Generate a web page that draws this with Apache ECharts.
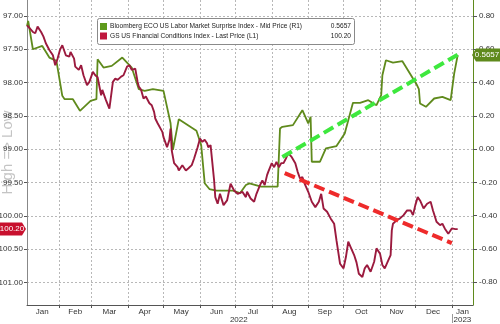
<!DOCTYPE html>
<html><head><meta charset="utf-8">
<script src="https://cdn.jsdelivr.net/npm/echarts@6/dist/echarts.min.js"></script>
<style>html,body{margin:0;padding:0;background:#fff}#c{width:500px;height:324px}</style>
</head><body><div id="c"></div>
<script>
// ---- data ----
const greenDates = ['2022-01-05','2022-01-06','2022-01-10','2022-01-18','2022-01-24','2022-01-30','2022-02-04','2022-02-06','2022-02-13','2022-02-19','2022-02-28','2022-03-05','2022-03-06','2022-03-11','2022-03-18','2022-03-27','2022-04-04','2022-04-10','2022-04-15','2022-04-22','2022-05-01','2022-05-07','2022-05-09','2022-05-14','2022-05-29','2022-06-02','2022-06-05','2022-06-09','2022-06-15','2022-06-29','2022-07-05','2022-07-10','2022-07-13','2022-07-23','2022-08-06','2022-08-08','2022-08-10','2022-08-19','2022-08-27','2022-09-01','2022-09-03','2022-09-04','2022-09-11','2022-09-16','2022-09-25','2022-10-02','2022-10-09','2022-10-15','2022-10-22','2022-10-29','2022-11-02','2022-11-03','2022-11-04','2022-11-06','2022-11-12','2022-11-20','2022-12-02','2022-12-04','2022-12-05','2022-12-10','2022-12-17','2022-12-24','2022-12-31','2023-01-03','2023-01-06'];
const greenValues = [0.74,0.77,0.60,0.62,0.55,0.53,0.32,0.30,0.30,0.23,0.29,0.30,0.54,0.49,0.50,0.55,0.49,0.36,0.35,0.36,0.35,0.155,-0.005,0.18,0.11,0.025,-0.205,-0.24,-0.25,-0.25,-0.265,-0.216,-0.206,-0.226,-0.226,0.124,0.134,0.144,0.234,0.154,0.194,-0.076,-0.076,0.004,0.018,0.094,0.278,0.278,0.294,0.264,0.324,0.444,0.434,0.534,0.52,0.528,0.39,0.36,0.274,0.254,0.304,0.314,0.294,0.454,0.5657];

const redDates = ['2022-01-05','2022-01-07','2022-01-10','2022-01-12','2022-01-14','2022-01-17','2022-01-19','2022-01-21','2022-01-24','2022-01-27','2022-01-29','2022-01-31','2022-02-02','2022-02-04','2022-02-07','2022-02-10','2022-02-11','2022-02-14','2022-02-15','2022-02-18','2022-02-20','2022-02-22','2022-02-25','2022-02-27','2022-03-02','2022-03-04','2022-03-06','2022-03-09','2022-03-10','2022-03-13','2022-03-16','2022-03-17','2022-03-19','2022-03-21','2022-03-23','2022-03-26','2022-03-28','2022-03-31','2022-04-02','2022-04-04','2022-04-07','2022-04-09','2022-04-10','2022-04-12','2022-04-14','2022-04-16','2022-04-19','2022-04-21','2022-04-23','2022-04-24','2022-04-26','2022-04-27','2022-04-30','2022-05-01','2022-05-04','2022-05-06','2022-05-07','2022-05-08','2022-05-10','2022-05-13','2022-05-14','2022-05-17','2022-05-20','2022-05-22','2022-05-25','2022-05-27','2022-05-30','2022-06-01','2022-06-03','2022-06-05','2022-06-07','2022-06-08','2022-06-10','2022-06-13','2022-06-14','2022-06-16','2022-06-18','2022-06-21','2022-06-24','2022-06-27','2022-06-30','2022-07-03','2022-07-07','2022-07-10','2022-07-11','2022-07-14','2022-07-17','2022-07-19','2022-07-22','2022-07-24','2022-07-26','2022-07-28','2022-07-29','2022-08-01','2022-08-03','2022-08-05','2022-08-07','2022-08-09','2022-08-11','2022-08-13','2022-08-15','2022-08-18','2022-08-21','2022-08-23','2022-08-25','2022-08-27','2022-08-29','2022-09-01','2022-09-04','2022-09-07','2022-09-10','2022-09-12','2022-09-14','2022-09-17','2022-09-20','2022-09-23','2022-09-25','2022-09-28','2022-10-01','2022-10-03','2022-10-05','2022-10-07','2022-10-10','2022-10-12','2022-10-14','2022-10-17','2022-10-19','2022-10-21','2022-10-24','2022-10-27','2022-10-29','2022-11-01','2022-11-03','2022-11-05','2022-11-08','2022-11-10','2022-11-11','2022-11-12','2022-11-15','2022-11-18','2022-11-21','2022-11-24','2022-11-27','2022-11-29','2022-12-01','2022-12-03','2022-12-05','2022-12-08','2022-12-11','2022-12-14','2022-12-15','2022-12-16','2022-12-19','2022-12-22','2022-12-24','2022-12-26','2022-12-29','2023-01-01','2023-01-04','2023-01-05','2023-01-06'];
const redValues = [97.14,97.18,97.24,97.26,97.16,97.24,97.31,97.41,97.51,97.59,97.74,97.64,97.51,97.44,97.59,97.61,97.54,97.64,97.76,97.81,97.74,97.89,98.04,97.99,97.84,97.89,97.92,98.19,98.11,98.26,98.39,98.26,97.99,97.94,97.96,97.91,97.89,97.76,97.74,97.81,97.79,97.99,98.06,98.11,98.24,98.21,98.31,98.34,98.44,98.54,98.61,98.64,98.74,98.82,98.97,98.86,98.69,99.02,99.21,99.27,99.32,99.24,99.32,99.29,99.24,99.14,98.97,98.84,98.89,98.86,98.91,98.97,98.94,99.47,99.72,99.82,99.67,99.84,99.77,99.52,99.62,99.67,99.64,99.72,99.64,99.74,99.79,99.67,99.54,99.47,99.54,99.39,99.34,99.21,99.27,99.19,99.27,99.21,99.21,99.14,99.06,99.12,99.21,99.34,99.44,99.42,99.52,99.64,99.79,99.87,99.79,99.67,99.89,99.94,100.04,100.12,100.37,100.72,100.79,100.62,100.39,100.47,100.59,100.70,100.87,100.92,100.79,100.74,100.84,100.69,100.49,100.57,100.74,100.79,100.67,100.59,100.22,100.12,100.07,100.04,99.99,99.92,99.92,99.99,99.84,99.72,99.77,99.89,99.82,99.79,99.77,99.92,100.09,100.14,100.12,100.19,100.27,100.19,100.20,100.17,100.20];

const greenName = 'Bloomberg ECO US Labor Market Surprise Index - Mid Price (R1)';
const redName = 'GS US Financial Conditions Index - Last Price (L1)';
const greenLast = 0.5657;
const redLast = 100.20;
const monthLabels = ['Jan','Feb','Mar','Apr','May','Jun','Jul','Aug','Sep','Oct','Nov','Dec'];
const monthStarts = ['2022-02-01','2022-03-01','2022-04-01','2022-05-01','2022-06-01','2022-07-01','2022-08-01','2022-09-01','2022-10-01','2022-11-01','2022-12-01','2023-01-01'];
const monthLabelDates = ['2022-01-18','2022-02-15','2022-03-16','2022-04-15','2022-05-16','2022-06-15','2022-07-16','2022-08-16','2022-09-15','2022-10-16','2022-11-15','2022-12-16','2023-01-10'];
const yearLabels = ['2022','2023'];
const yearLabelDates = ['2022-07-04','2023-01-10'];
const yearBreaks = ['2023-01-01'];
const leftTicks = [97.0,97.5,98.0,98.5,99.0,99.5,100.0,100.5,101.0];
const rightTicks = [-0.8,-0.6,-0.4,-0.2,0.0,0.2,0.4,0.6,0.8];
const greenArrow = [['2022-08-10',-0.048],['2023-01-08',0.576]];
const redArrow = [['2022-08-12',99.36],['2023-01-01',100.41]];

// ---- helpers ----
function ts(s){const p=s.split('-').map(Number);return Date.UTC(p[0],p[1]-1,p[2]);}
const FONT = 'Liberation Sans, Arial, sans-serif';
const GREEN = '#5f8a1c', RED = '#9b1a3e';
const gridLine = {show:true,lineStyle:{color:'#b8b8b8',type:[2,2],width:1}};
const X0 = ts('2022-01-05'), X1 = ts('2023-01-19');

const chart = echarts.init(document.getElementById('c'), null, {renderer:'canvas'});
const option = {
  animation:false,
  backgroundColor:'#fff',
  grid:{left:27,right:27,top:0,bottom:19,containLabel:false,outerBoundsMode:'none'},
  xAxis:[{
    type:'value', min:X0, max:X1, scale:true,
    axisLine:{show:true,onZero:false,lineStyle:{color:'#555',width:1}},
    axisTick:{show:true,customValues:monthStarts.map(ts),length:3,lineStyle:{color:'#555'}},
    axisLabel:{customValues:monthLabelDates.map(ts),formatter:v=>monthLabels[new Date(v).getUTCMonth()],
      fontSize:8,color:'#333',fontFamily:FONT,margin:3},
    splitLine:gridLine
  },{
    type:'value', min:X0, max:X1, scale:true, position:'bottom', offset:9,
    axisLine:{show:false,onZero:false},
    axisTick:{show:true,customValues:yearBreaks.map(ts),length:9,lineStyle:{color:'#999'}},
    axisLabel:{customValues:yearLabelDates.map(ts),formatter:v=>yearLabels[new Date(v).getUTCFullYear()-2022],
      fontSize:8,color:'#333',fontFamily:FONT,margin:2},
    splitLine:{show:false}
  }],
  yAxis:[{
    type:'value', inverse:true, min:96.76, max:101.34, position:'left',
    name:'High => Low', nameLocation:'middle', nameRotate:90, nameGap:12, nameMoveOverlap:false,
    nameTextStyle:{color:'#c4c4c4',fontSize:15,fontFamily:FONT},
    axisLine:{show:true,onZero:false,lineStyle:{color:'#888'}},
    axisTick:{show:true,customValues:leftTicks,length:3,lineStyle:{color:'#555'}},
    axisLabel:{customValues:leftTicks,formatter:v=>v.toFixed(2),fontSize:8,color:'#333',fontFamily:FONT,margin:4},
    splitLine:gridLine
  },{
    type:'value', min:-0.937, max:0.896, position:'right',
    axisLine:{show:true,onZero:false,lineStyle:{color:GREEN}},
    axisTick:{show:true,customValues:rightTicks,length:4,lineStyle:{color:'#555'}},
    axisLabel:{customValues:rightTicks,formatter:v=>v.toFixed(2),fontSize:8,color:'#333',fontFamily:FONT,margin:6},
    splitLine:{show:false}
  }],
  series:[
    {name:greenName,type:'line',yAxisIndex:1,showSymbol:false,
     data:greenDates.map((d,i)=>[ts(d),greenValues[i]]),
     lineStyle:{color:GREEN,width:1.8},itemStyle:{color:GREEN},z:2},
    {name:redName,type:'line',yAxisIndex:0,showSymbol:false,
     data:redDates.map((d,i)=>[ts(d),redValues[i]]),
     lineStyle:{color:RED,width:1.9},itemStyle:{color:RED},z:3},
    {type:'line',yAxisIndex:1,data:[],z:5,
     markLine:{silent:true,symbol:['none','arrow'],symbolSize:[0,14],label:{show:false},
       lineStyle:{color:'#3ee83e',width:4,type:[11,5]},emphasis:{disabled:true},
       data:[[{coord:[ts(greenArrow[0][0]),greenArrow[0][1]]},{coord:[ts(greenArrow[1][0]),greenArrow[1][1]]}]]}},
    {type:'line',yAxisIndex:0,data:[],z:5,
     markLine:{silent:true,symbol:['none','arrow'],symbolSize:[0,14],label:{show:false},
       lineStyle:{color:'#ee2b2b',width:4,type:[11,5]},emphasis:{disabled:true},
       data:[[{coord:[ts(redArrow[0][0]),redArrow[0][1]]},{coord:[ts(redArrow[1][0]),redArrow[1][1]]}]]}}
  ]
};
chart.setOption(option);

// legend box + value tags
const gy = chart.convertToPixel({yAxisIndex:1}, greenLast);
const ry = chart.convertToPixel({yAxisIndex:0}, redLast);
chart.setOption({graphic:[
  {type:'rect',shape:{x:97.5,y:18.5,width:257,height:26,r:2},style:{fill:'#fff',stroke:'#8a8a8a',lineWidth:1},z:20},
  {type:'rect',shape:{x:100,y:23,width:7,height:7},style:{fill:'#5e9a1c'},z:21},
  {type:'rect',shape:{x:100,y:32.5,width:7,height:7},style:{fill:'#c0183e'},z:21},
  {type:'text',x:110,y:26.5,style:{text:greenName,fill:'#222',font:'6.6px '+FONT,verticalAlign:'middle'},z:21},
  {type:'text',x:110,y:36,style:{text:redName,fill:'#222',font:'6.6px '+FONT,verticalAlign:'middle'},z:21},
  {type:'text',x:351,y:26.5,style:{text:greenLast.toFixed(4),fill:'#222',font:'6.6px '+FONT,align:'right',verticalAlign:'middle'},z:21},
  {type:'text',x:351,y:36,style:{text:redLast.toFixed(2),fill:'#222',font:'6.6px '+FONT,align:'right',verticalAlign:'middle'},z:21},
  {type:'polygon',shape:{points:[[0,ry-6.5],[22,ry-6.5],[26,ry],[22,ry+6.5],[0,ry+6.5]]},style:{fill:'#c8102e'},z:20},
  {type:'text',x:12,y:ry,style:{text:redLast.toFixed(2),fill:'#fff',font:'8px '+FONT,align:'center',verticalAlign:'middle'},z:21},
  {type:'polygon',shape:{points:[[472,gy],[476,gy-6.5],[500,gy-6.5],[500,gy+6.5],[476,gy+6.5]]},style:{fill:'#5f8a1c'},z:20},
  {type:'text',x:487,y:gy,style:{text:greenLast.toFixed(4),fill:'#fff',font:'8px '+FONT,align:'center',verticalAlign:'middle'},z:21}
]});
</script></body></html>
